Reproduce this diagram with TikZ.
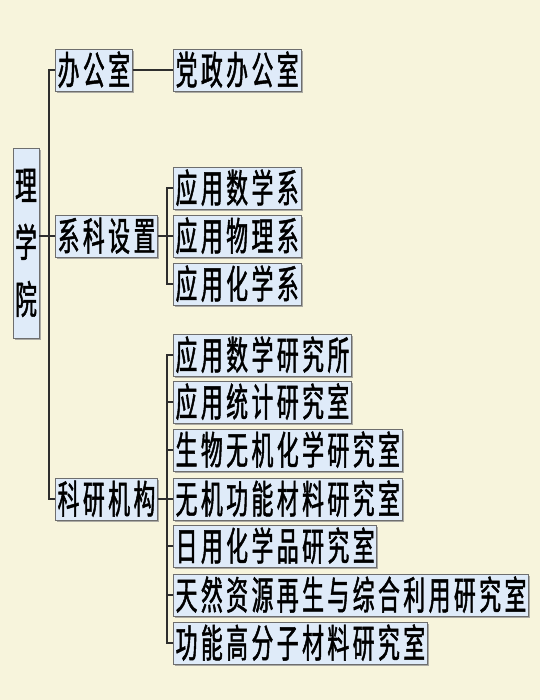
\documentclass[tikz,border=0pt]{standalone}
\usepackage{fontspec}
\newfontfamily\cjk[FakeStretch=0.56,FakeBold=1.2]{Noto Sans CJK SC}
\usetikzlibrary{shadows}
\definecolor{bgc}{HTML}{F7F4DC}
\definecolor{boxfill}{HTML}{DFEBF9}
\definecolor{boxline}{HTML}{6E6E6E}
\definecolor{conncol}{HTML}{2E2E2E}
\def\cells#1{\cellsi#1\relax}
\def\cellsi#1{\ifx\relax#1\else\makebox[25.3pt]{#1}\expandafter\cellsi\fi}
\tikzset{
  orgbox/.style={draw=boxline, fill=boxfill, line width=0.8pt,
    inner xsep=0.5pt, inner ysep=0pt, minimum height=42pt,
    font=\cjk\fontsize{39}{39}\selectfont, text height=34pt, text depth=5pt,
    anchor=west,
    drop shadow={shadow xshift=1.6pt, shadow yshift=-1.6pt, fill=black!45, opacity=0.7}},
  rootbox/.style={draw=boxline, fill=boxfill, line width=0.8pt,
    inner sep=0pt, minimum width=26pt, minimum height=190pt, align=center,
    font=\cjk\fontsize{39}{57}\selectfont,
    drop shadow={shadow xshift=1.6pt, shadow yshift=-1.6pt, fill=black!45, opacity=0.7}},
  conn/.style={draw=conncol, line width=1.4pt}
}
\begin{document}
\begin{tikzpicture}[x=1pt,y=-1pt]
\fill[bgc] (0,0) rectangle (540,700);
\useasboundingbox (0,0) rectangle (540,700);
\coordinate (ta) at (49,0);
\coordinate (tb) at (167,0);
% root
\node[rootbox] (root) at (26,243) {理\\学\\院};
% level 1
\node[orgbox] (ban) at (55,70) {\cells{办公室}};
\node[orgbox] (xk) at (55,236) {\cells{系科设置}};
\node[orgbox] (ky) at (55,499) {\cells{科研机构}};
% level 2
\node[orgbox] (dz) at (173,70) {\cells{党政办公室}};
\node[orgbox] (s1) at (173,188) {\cells{应用数学系}};
\node[orgbox] (s2) at (173,236) {\cells{应用物理系}};
\node[orgbox] (s3) at (173,284) {\cells{应用化学系}};
\node[orgbox] (r1) at (173,355) {\cells{应用数学研究所}};
\node[orgbox] (r2) at (173,402) {\cells{应用统计研究室}};
\node[orgbox] (r3) at (173,450) {\cells{生物无机化学研究室}};
\node[orgbox] (r4) at (173,499) {\cells{无机功能材料研究室}};
\node[orgbox] (r5) at (173,546) {\cells{日用化学品研究室}};
\node[orgbox] (r6) at (173,595) {\cells{天然资源再生与综合利用研究室}};
\node[orgbox] (r7) at (173,643) {\cells{功能高分子材料研究室}};
% connectors
\draw[conn] (ban.west) -- (ban.west -| ta) -- (ky.west -| ta) -- (ky.west);
\draw[conn] (xk.west -| root.east) -- (xk.west);
\draw[conn] (ban.east) -- (dz.west);
\draw[conn] (xk.east) -- (s2.west);
\draw[conn] (s1.west) -- (s1.west -| tb) -- (s3.west -| tb) -- (s3.west);
\draw[conn] (ky.east) -- (r4.west);
\draw[conn] (r1.west) -- (r1.west -| tb) -- (r7.west -| tb) -- (r7.west);
\draw[conn] (r2.west -| tb) -- (r2.west);
\draw[conn] (r3.west -| tb) -- (r3.west);
\draw[conn] (r5.west -| tb) -- (r5.west);
\draw[conn] (r6.west -| tb) -- (r6.west);
\end{tikzpicture}
\end{document}
